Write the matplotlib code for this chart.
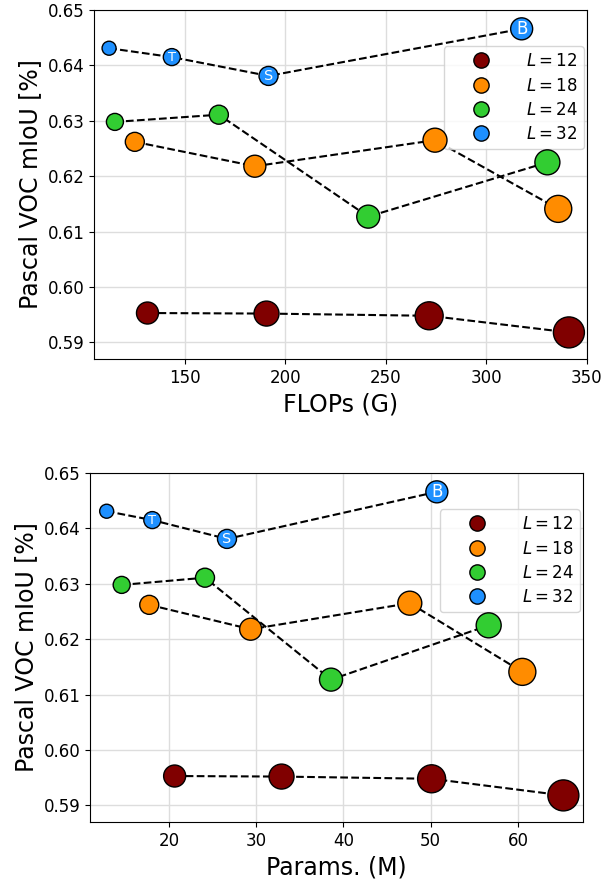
import matplotlib
matplotlib.use("Agg")
import matplotlib.pyplot as plt
from matplotlib.lines import Line2D

# --- data ---
depths = [12, 18, 24, 32]
flops = {
    12: [131.4, 190.6, 271.5, 341.0],
    18: [125.1, 184.8, 274.4, 335.7],
    24: [115.2, 166.9, 241.2, 330.3],
    32: [112.3, 143.5, 191.6, 317.5],
}
params = {
    12: [20.65, 32.9, 50.1, 65.2],
    18: [17.74, 29.36, 47.6, 60.5],
    24: [14.58, 24.13, 38.57, 56.64],
    32: [12.86, 18.09, 26.65, 50.7],
}
miou = {
    12: [0.5953, 0.5952, 0.5948, 0.5918],
    18: [0.6262, 0.6218, 0.6265, 0.6141],
    24: [0.6298, 0.6311, 0.6127, 0.6225],
    32: [0.6431, 0.6415, 0.6381, 0.6466],
}
tags = ["", "T", "S", "B"]   # labels on the L=32 markers

# marker diameters in px, per series
diam = {
    12: [23, 26, 29, 32],
    18: [20, 23, 25, 28],
    24: [18, 20, 24, 26],
    32: [15, 18, 20, 23],
}
colors = {12: "#800000", 18: "#FF8C00", 24: "#32CD32", 32: "#1E90FF"}

W, H = 611, 884
fig = plt.figure(figsize=(W / 100, H / 100), dpi=100)


def panel(rect, xs, xlim, xticks, xlabel):
    ax = fig.add_axes(rect)
    ax.grid(True, color="#dddddd", lw=1, zorder=0)
    for L in depths:
        x, y = xs[L], miou[L]
        ax.plot(x, y, ls="--", color="black", lw=1.5, zorder=2)
        s = [((d - 1) * 0.72) ** 2 for d in diam[L]]
        ax.scatter(x, y, s=s, color=colors[L], edgecolor="black", lw=1, zorder=3)
    for x, y, t, d in zip(xs[32], miou[32], tags, diam[32]):
        if t:
            ax.text(x, y, t, color="white", ha="center", va="center",
                    fontsize=d * 0.52, zorder=4)
    ax.set_xlim(*xlim)
    ax.set_ylim(0.587, 0.65)
    ax.set_xticks(xticks)
    ax.set_yticks([0.59, 0.60, 0.61, 0.62, 0.63, 0.64, 0.65])
    ax.set_yticklabels([f"{v:.2f}" for v in ax.get_yticks()])
    ax.tick_params(labelsize=12)
    ax.set_xlabel(xlabel, fontsize=17)
    ax.set_ylabel("Pascal VOC mIoU [%]", fontsize=17)
    handles = [Line2D([], [], ls="", marker="o", ms=11, mfc=colors[L], mec="black")
               for L in depths]
    leg = ax.legend(handles, [f"$L = {L}$" for L in depths], loc="upper right",
                    bbox_to_anchor=(1.0, 0.905), fontsize=12, handlelength=3.8,
                    handletextpad=0.8, labelspacing=0.38, borderpad=0.35,
                    borderaxespad=0.2)
    leg.set_zorder(2.5)
    return ax


panel([94 / W, 1 - 359 / H, 493 / W, 349 / H], flops, (104.8, 350),
      [150, 200, 250, 300, 350], "FLOPs (G)")
panel([90 / W, 1 - 822 / H, 493 / W, 349 / H], params, (10.95, 67.45),
      [20, 30, 40, 50, 60], "Params. (M)")

fig.savefig("out.png", dpi=100)
